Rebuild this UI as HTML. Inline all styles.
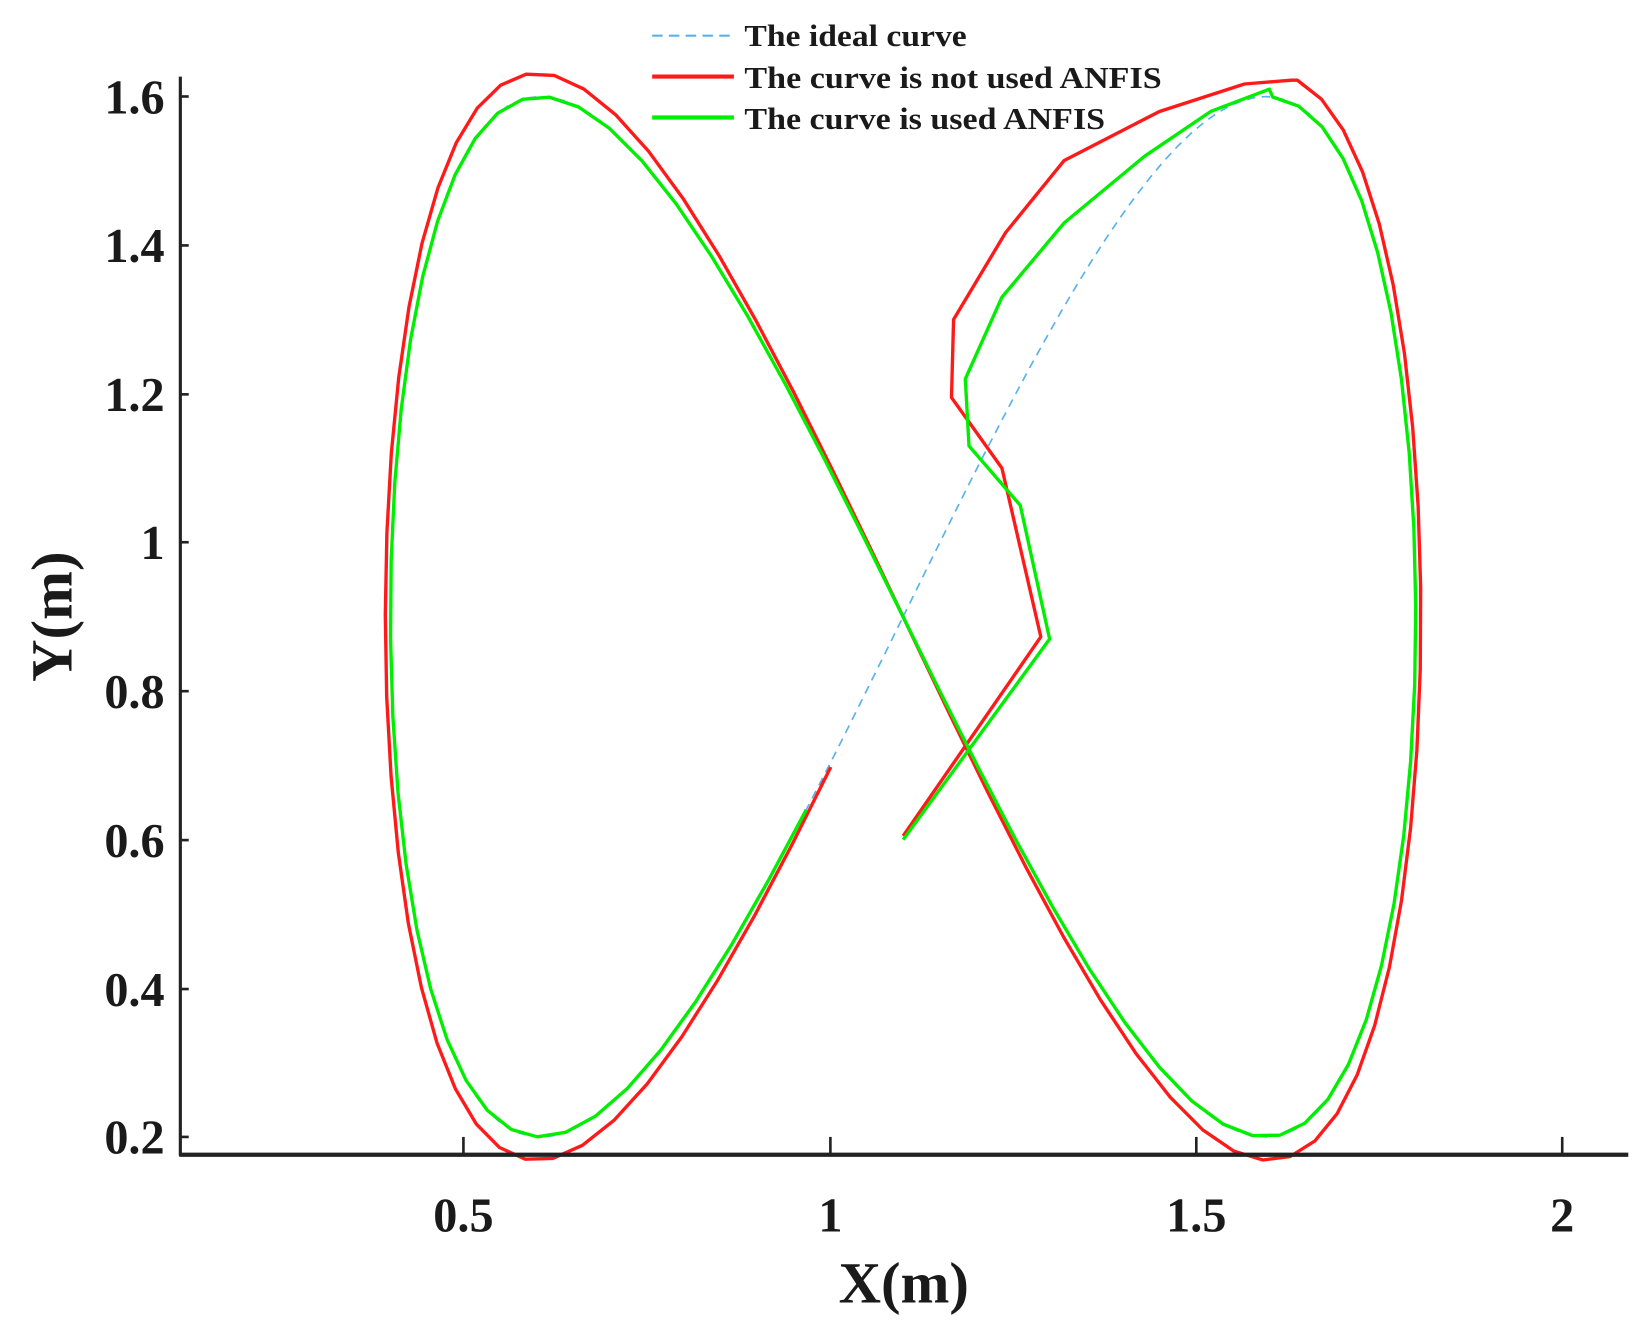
<!DOCTYPE html>
<html><head><meta charset="utf-8"><style>
html,body{margin:0;padding:0;background:#fff;}
svg{display:block;}
text{font-family:"Liberation Serif",serif;font-weight:bold;fill:#1a1a1a;}
</style></head><body>
<svg id="s" width="1644" height="1332" viewBox="0 0 1568 1270" preserveAspectRatio="none" xmlns="http://www.w3.org/2000/svg">
<rect width="1568" height="1270" fill="#fff"/>
<g id="curves"></g>
<line x1="172" y1="73" x2="172" y2="1102" stroke="#222" stroke-width="3"/>
<line x1="171" y1="1101" x2="1553" y2="1101" stroke="#222" stroke-width="4"/>
<g stroke="#222" stroke-width="2.5">
<line x1="172" y1="92" x2="180" y2="92"/><line x1="172" y1="234" x2="180" y2="234"/>
<line x1="172" y1="376" x2="180" y2="376"/><line x1="172" y1="517" x2="180" y2="517"/>
<line x1="172" y1="659" x2="180" y2="659"/><line x1="172" y1="801" x2="180" y2="801"/>
<line x1="172" y1="943" x2="180" y2="943"/><line x1="172" y1="1084" x2="180" y2="1084"/>
<line x1="442" y1="1101" x2="442" y2="1084"/><line x1="792" y1="1101" x2="792" y2="1084"/>
<line x1="1141" y1="1101" x2="1141" y2="1084"/><line x1="1490" y1="1101" x2="1490" y2="1084"/>
</g>
<g font-size="46" text-anchor="end">
<text x="157" y="108">1.6</text><text x="157" y="250">1.4</text><text x="157" y="392">1.2</text>
<text x="157" y="533">1</text><text x="157" y="675">0.8</text><text x="157" y="817">0.6</text>
<text x="157" y="959">0.4</text><text x="157" y="1100">0.2</text>
</g>
<g font-size="46" text-anchor="middle">
<text x="442" y="1174">0.5</text><text x="792" y="1174">1</text>
<text x="1141" y="1174">1.5</text><text x="1490" y="1174">2</text>
</g>
<text x="862" y="1242" font-size="56" text-anchor="middle">X(m)</text>
<text transform="translate(68,588) rotate(-90)" font-size="56" text-anchor="middle">Y(m)</text>
<line x1="622" y1="34" x2="700" y2="34" stroke="#5ab4e8" stroke-width="2" stroke-dasharray="10,6"/>
<line x1="622" y1="73" x2="700" y2="73" stroke="#ff1a1a" stroke-width="4"/>
<line x1="622" y1="112" x2="700" y2="112" stroke="#00ee00" stroke-width="4"/>
<g font-size="29">
<text x="710" y="44" textLength="212" lengthAdjust="spacingAndGlyphs">The ideal curve</text>
<text x="710" y="84" textLength="398" lengthAdjust="spacingAndGlyphs">The curve is not used ANFIS</text>
<text x="710" y="123" textLength="344" lengthAdjust="spacingAndGlyphs">The curve is used ANFIS</text>
</g>
</svg>
<script>
function X(x){return 93+698.5*x;}
function Y(y){return 1084-(y-0.2)*708.5;}
function pts(a){return a.map(p=>X(p[0]).toFixed(1)+','+Y(p[1]).toFixed(1)).join(' ');}
function lem(t0,t1,n,sx,sy){var a=[];for(var i=0;i<=n;i++){var t=t0+(t1-t0)*i/n;a.push([1.1+0.7*Math.sin(t)*sx,0.9+0.7*Math.sin(2*t)*sy]);}return a;}
var P=Math.PI;
var ideal=lem(0,2*P,200,1,1);
var green=[[1.1,0.6],[1.3,0.87],[1.26,1.05],[1.19,1.13],[1.185,1.22],[1.235,1.33],[1.32,1.43],[1.43,1.52],[1.52,1.58],[1.6,1.61]];
green=green.concat(lem(P/4+0.02,2*P-0.19,70,1,1));
var red=[[1.1,0.605],[1.288,0.873],[1.235,1.1],[1.166,1.195],[1.169,1.30],[1.24,1.417],[1.32,1.514],[1.45,1.58],[1.566,1.617],[1.63,1.622]];
red=red.concat(lem(P/4+0.08,2*P-0.14,70,1.01,1.045));
document.getElementById('curves').innerHTML='<polyline points="'+pts(ideal)+'" fill="none" stroke="#5ab4e8" stroke-width="1.6" stroke-dasharray="8,6"/>'+
'<polyline points="'+pts(red)+'" fill="none" stroke="#ff1a1a" stroke-width="3.2" stroke-linejoin="round"/>'+
'<polyline points="'+pts(green)+'" fill="none" stroke="#00ee00" stroke-width="3.2" stroke-linejoin="round"/>';
</script>
</body></html>
